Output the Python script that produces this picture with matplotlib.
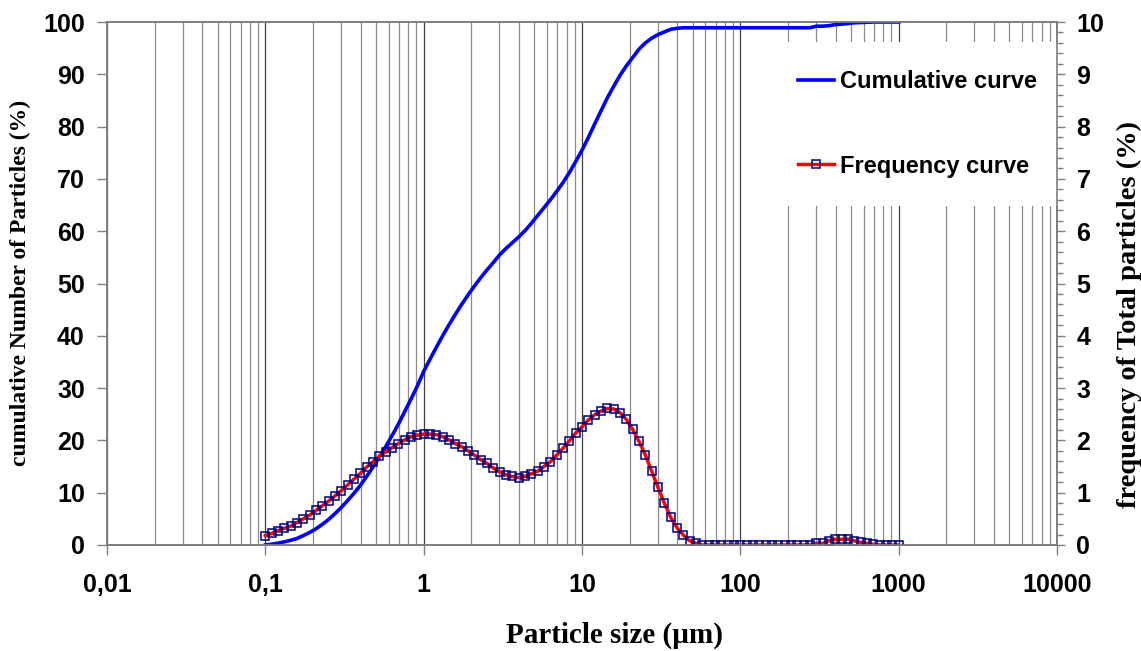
import numpy as np
import matplotlib
matplotlib.use('Agg')
import matplotlib.pyplot as plt
from matplotlib.ticker import MultipleLocator, LogLocator, NullFormatter

# size classes (um)
sizes = [0.1000, 0.1096, 0.1202, 0.1318, 0.1445, 0.1585, 0.1738, 0.1905, 0.2089, 0.2291,
         0.2512, 0.2754, 0.3020, 0.3311, 0.3631, 0.3981, 0.4365, 0.4786, 0.5248, 0.5754,
         0.6310, 0.6918, 0.7586, 0.8318, 0.9120,
         1.000, 1.096, 1.202, 1.318, 1.445, 1.585, 1.738, 1.905, 2.089, 2.291,
         2.512, 2.754, 3.020, 3.311, 3.631, 3.981, 4.365, 4.786, 5.248, 5.754,
         6.310, 6.918, 7.586, 8.318, 9.120,
         10.00, 10.96, 12.02, 13.18, 14.45, 15.85, 17.38, 19.05, 20.89, 22.91,
         25.12, 27.54, 30.20, 33.11, 36.31, 39.81, 43.65, 47.86, 52.48, 57.54,
         63.10, 69.18, 75.86, 83.18, 91.20,
         100.0, 109.6, 120.2, 131.8, 144.5, 158.5, 173.8, 190.5, 208.9, 229.1,
         251.2, 275.4, 302.0, 331.1, 363.1, 398.1, 436.5, 478.6, 524.8, 575.4,
         631.0, 691.8, 758.6, 831.8, 912.0,
         1000.0]

# frequency of total particles (%), right axis
frequency = [0.18, 0.22, 0.27, 0.32, 0.36, 0.43, 0.50, 0.57, 0.66, 0.75,
             0.84, 0.94, 1.04, 1.15, 1.26, 1.37, 1.49, 1.59, 1.70, 1.78,
             1.86, 1.94, 2.01, 2.07, 2.10,
             2.12, 2.12, 2.11, 2.07, 2.01, 1.94, 1.88, 1.80, 1.72, 1.63,
             1.56, 1.47, 1.40, 1.34, 1.31, 1.29, 1.31, 1.36, 1.41, 1.50,
             1.59, 1.72, 1.85, 1.99, 2.14,
             2.26, 2.39, 2.49, 2.56, 2.61, 2.60, 2.53, 2.40, 2.21, 1.98,
             1.72, 1.41, 1.10, 0.80, 0.53, 0.33, 0.19, 0.08, 0.03, 0.0,
             0.0, 0.0, 0.0, 0.0, 0.0,
             0.0, 0.0, 0.0, 0.0, 0.0, 0.0, 0.0, 0.0, 0.0, 0.0,
             0.0, 0.0, 0.03, 0.03, 0.08, 0.11, 0.11, 0.11, 0.08, 0.05,
             0.03, 0.01, 0.0, 0.0, 0.0,
             0.0]

# cumulative number of particles (%), left axis
cumulative = [0.0, 0.15, 0.35, 0.6, 0.9, 1.25, 1.8, 2.4, 3.1, 3.95,
              4.9, 6.0, 7.2, 8.5, 9.9, 11.4, 13.1, 14.9, 16.8, 18.8,
              20.9, 23.1, 25.5, 27.9, 30.4,
              33.2, 35.5, 37.8, 40.0, 42.1, 44.1, 46.0, 47.8, 49.5, 51.1,
              52.6, 54.0, 55.5, 56.7, 57.8, 58.9, 60.1, 61.5, 63.0, 64.5,
              66.0, 67.6, 69.3, 71.2, 73.3,
              75.5, 77.9, 80.5, 83.0, 85.5, 87.7, 89.8, 91.6, 93.2, 94.8,
              96.0, 96.9, 97.6, 98.1, 98.6, 98.8, 98.9, 98.9, 98.9, 98.9,
              98.9, 98.9, 98.9, 98.9, 98.9,
              98.9, 98.9, 98.9, 98.9, 98.9, 98.9, 98.9, 98.9, 98.9, 98.9,
              98.9, 98.9, 99.2, 99.2, 99.3, 99.5, 99.6, 99.7, 99.85, 99.9,
              99.95, 100.0, 100.0, 100.0, 100.0,
              100.0]

xtick_vals = [0.01, 0.1, 1, 10, 100, 1000, 10000]
xtick_labels = ['0,01', '0,1', '1', '10', '100', '1000', '10000']

sans = 'Liberation Sans'
serif = 'Liberation Serif'
spine_col = '#7f7f7f'

fig = plt.figure(figsize=(11.41, 6.51), dpi=100)
fig.subplots_adjust(left=107 / 1141, right=1057 / 1141, bottom=1 - 545 / 651, top=1 - 22 / 651)
ax = fig.add_subplot(111)
ax2 = ax.twinx()

line_cum, = ax.plot(sizes, cumulative, color='#0000ff', lw=2.6, zorder=3,
                    label='Cumulative curve')
line_freq, = ax2.plot(sizes, frequency, color='#ff0000', lw=2.5,
                      marker='s', markersize=5.5, markerfacecolor='none',
                      markeredgecolor='#000080', markeredgewidth=1.1,
                      label='Frequency curve')

ax.set_xscale('log')
ax.set_xlim(0.01, 10000)
ax.set_ylim(0, 100)
ax2.set_ylim(0, 10)

ax.set_xticks(xtick_vals, labels=xtick_labels)
ax.xaxis.set_minor_locator(LogLocator(base=10, subs=np.arange(2, 10)))
ax.xaxis.set_minor_formatter(NullFormatter())
ax.yaxis.set_major_locator(MultipleLocator(10))
ax2.yaxis.set_major_locator(MultipleLocator(1))
ax2.yaxis.set_minor_locator(MultipleLocator(0.2))

ax.grid(True, which='major', axis='x', color='#404040', lw=0.9)
ax.grid(True, which='minor', axis='x', color='#8c8c8c', lw=0.9)
ax.set_axisbelow(True)

for a in (ax, ax2):
    for sp in a.spines.values():
        sp.set_color(spine_col)
        sp.set_linewidth(1.2)

ax.tick_params(axis='x', which='major', direction='out', length=7, width=1,
               color=spine_col, pad=13)
ax.tick_params(axis='x', which='minor', length=0)
ax.tick_params(axis='y', direction='out', length=7, width=1, color=spine_col, pad=9)
ax2.tick_params(axis='y', which='major', direction='out', length=6, width=1,
                color=spine_col, pad=8)
ax2.tick_params(axis='y', which='minor', direction='out', length=4, width=1,
                color=spine_col)

for lab in ax.get_xticklabels() + ax.get_yticklabels() + ax2.get_yticklabels():
    lab.set_fontfamily(sans)
    lab.set_fontweight('bold')
    lab.set_fontsize(18)

leg = ax.legend(handles=[line_cum, line_freq], loc='upper left',
                bbox_to_anchor=(770 / 1141, 1 - 42 / 651),
                bbox_transform=fig.transFigure, borderaxespad=0,
                frameon=True, fancybox=False, framealpha=1,
                facecolor='white', edgecolor='none',
                prop={'family': sans, 'weight': 'bold', 'size': 17},
                handlelength=1.5, handletextpad=0.25, labelspacing=2.6,
                borderpad=1.2, numpoints=1)
leg.set_zorder(5)

fig.text(614 / 1141, 1 - 635 / 651, 'Particle size (\u00b5m)', family=serif,
         weight='bold', size=21, ha='center', va='center')
fig.text(20 / 1141, 1 - 283 / 651, 'cumulative Number of Particles (%)',
         family=serif, weight='bold', size=17, rotation=90,
         ha='center', va='center')
fig.text(1129 / 1141, 1 - 315 / 651, 'frequency of Total particles (%)',
         family=serif, weight='bold', size=20.5, rotation=90,
         ha='center', va='center')

fig.savefig('out.png', dpi=100)
